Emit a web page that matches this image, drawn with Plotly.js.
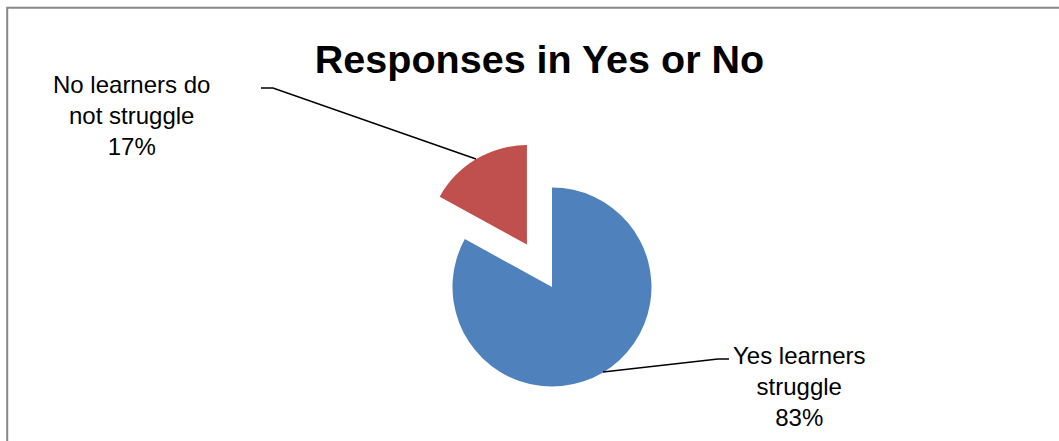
<!DOCTYPE html>
<html><head><meta charset="utf-8">
<script src="https://cdn.plot.ly/plotly-3.0.1.min.js"></script>
<style>html,body{margin:0;padding:0;background:#fff}#chart{width:1059px;height:441px}</style>
</head><body><div id="chart"></div>
<script>
const labels = ['Yes learners struggle', 'No learners do not struggle'];
const labelLines = ['Yes learners<br>struggle', 'No learners do<br>not struggle'];
const values = [83, 17];
const percentText = ['83%', '17%'];
const colors = ['#4F81BD', '#C0504D'];
const pulls = [0, 0.495];
const chartTitle = 'Responses in Yes or No';

const W = 1059, H = 441;
const px = x => x / W, py = y => 1 - y / H;

const trace = {
  type: 'pie',
  labels: labels,
  values: values,
  marker: {colors: colors, line: {width: 0}},
  pull: pulls,
  sort: false,
  direction: 'clockwise',
  rotation: 0,
  textinfo: 'none',
  hoverinfo: 'label+percent',
  domain: {x: [px(352), px(752)], y: [py(435.75), py(138.25)]}
};

const labelFont = {family: 'Liberation Sans, Arial, sans-serif', size: 24, color: '#000'};
const annotations = [
  {xref: 'paper', yref: 'paper', x: px(799), y: py(386), xanchor: 'center', yanchor: 'middle',
   text: labelLines[0] + '<br>' + percentText[0], showarrow: false, font: labelFont, align: 'center'},
  {xref: 'paper', yref: 'paper', x: px(131.5), y: py(115), xanchor: 'center', yanchor: 'middle',
   text: labelLines[1] + '<br>' + percentText[1], showarrow: false, font: labelFont, align: 'center'}
];

const P = (x, y) => px(x) + ',' + py(y);
const shapes = [
  {type: 'rect', xref: 'paper', yref: 'paper', x0: px(7.2), y0: py(7.8), x1: 1.02, y1: -0.02,
   line: {color: '#888888', width: 2}, fillcolor: 'rgba(0,0,0,0)'},
  {type: 'path', xref: 'paper', yref: 'paper', path: 'M' + P(261, 88) + ' L' + P(273, 88) + ' L' + P(476, 159),
   line: {color: '#000', width: 1.5}},
  {type: 'path', xref: 'paper', yref: 'paper', path: 'M' + P(729, 359) + ' L' + P(718, 359) + ' L' + P(603, 372),
   line: {color: '#000', width: 1.5}}
];

const layout = {
  width: W, height: H,
  margin: {l: 0, r: 0, t: 0, b: 0},
  paper_bgcolor: '#fff',
  showlegend: false,
  title: {text: '<b>' + chartTitle + '</b>', x: px(539.5), xanchor: 'center', y: py(59), yanchor: 'middle',
          xref: 'paper', yref: 'paper',
          font: {family: 'Liberation Sans, Arial, sans-serif', size: 39.5, color: '#000'}},
  annotations: annotations,
  shapes: shapes
};

Plotly.newPlot('chart', [trace], layout, {displayModeBar: false, staticPlot: true});
</script>
</body></html>
